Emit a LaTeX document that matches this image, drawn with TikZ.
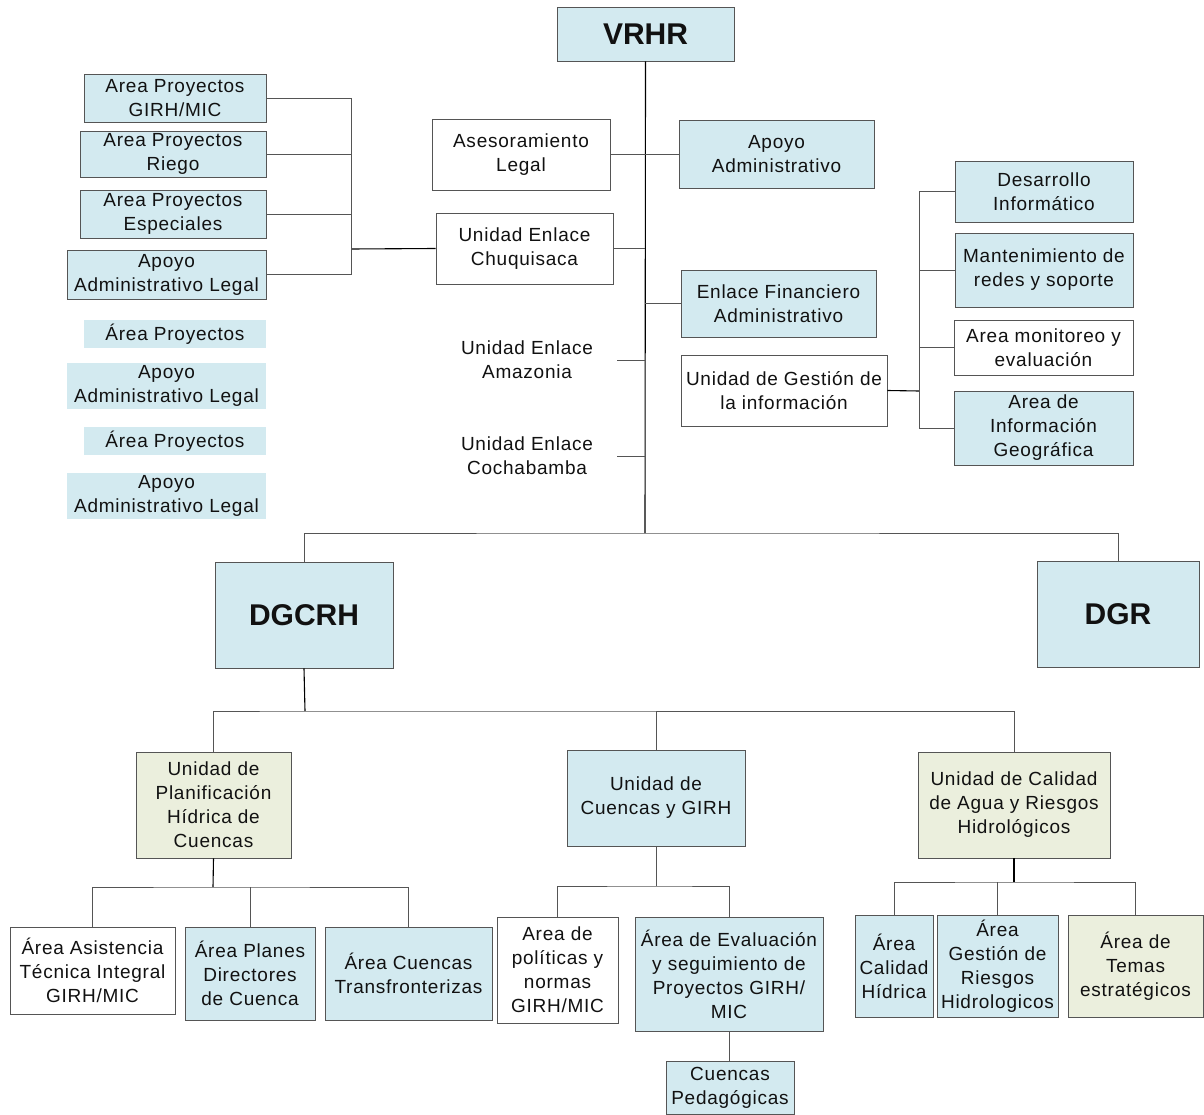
\documentclass[tikz,border=0pt]{standalone}
\usepackage{fontspec}
\setmainfont[LetterSpace=4]{Liberation Sans}
\newfontfamily\bigfont{Liberation Sans}
\definecolor{lblue}{HTML}{D3EAF0}
\definecolor{lgreen}{HTML}{EBEFDD}
\definecolor{lgray}{HTML}{555555}
\definecolor{txt}{HTML}{111111}
\newcommand\fsz{\fontsize{19}{24}\selectfont}
\begin{document}
\begin{tikzpicture}[x=1pt,y=-1pt,
  bx/.style={draw=lgray, line width=0.9pt, inner sep=0pt, align=center, font=\fsz, text=txt},
  bbox/.style={bx, fill=lblue},
  gbox/.style={bx, fill=lgreen},
  wbox/.style={bx, fill=white},
  fbox/.style={fill=lblue, inner sep=0pt, align=center, font=\fsz, text=txt},
  tbox/.style={inner sep=0pt, align=center, font=\fsz, text=txt},
  big/.style={font=\bigfont\fontsize{30}{34}\selectfont\bfseries},
  dbig/.style={font=\bigfont\fontsize{30}{34}\selectfont\bfseries},
  conn/.style={draw=lgray, line width=0.8pt},
  tconn/.style={draw=black, line width=1.1pt}]
\useasboundingbox (0,0) rectangle (1204,1115);
\fill[white] (0,0) rectangle (1204,1115);

% top level
\node[bbox, big, minimum width=177pt, minimum height=54pt] (vrhr) at (645.5,34) {VRHR};
\node[wbox, minimum width=178pt, minimum height=71pt] (ases) at (521,154.5) {Asesoramiento\\Legal};
\node[bbox, minimum width=195pt, minimum height=68pt] (apoyo) at (776.5,154) {Apoyo\\Administrativo};
\node[wbox, minimum width=177pt, minimum height=71pt] (chuq) at (524.5,248.5) {Unidad Enlace\\Chuquisaca};
\node[bbox, minimum width=195pt, minimum height=67pt] (efin) at (778.5,303.5) {Enlace Financiero\\Administrativo};
\node[tbox, minimum width=180pt] (amaz) at (527,360) {Unidad Enlace\\Amazonia};
\node[tbox, minimum width=180pt] (cocha) at (527,456) {Unidad Enlace\\Cochabamba};
\node[wbox, minimum width=206pt, minimum height=71pt] (ugi) at (784,390.5) {Unidad de Gestión de\\la información};

% left column
\node[bbox, minimum width=182pt, minimum height=48pt] (l1) at (175,98) {Area Proyectos\\GIRH/MIC};
\node[bbox, minimum width=186pt, minimum height=46pt] (l2) at (173,154) {Area Proyectos\\Riego};
\node[bbox, minimum width=186pt, minimum height=48pt] (l3) at (173,214) {Area Proyectos\\Especiales};
\node[bbox, minimum width=199pt, minimum height=49pt] (l4) at (166.5,274.5) {Apoyo\\Administrativo Legal};
\node[fbox, minimum width=182pt, minimum height=28pt] (f1) at (175,334) {Área Proyectos};
\node[fbox, minimum width=199pt, minimum height=46pt] (f2) at (166.5,386) {Apoyo\\Administrativo Legal};
\node[fbox, minimum width=182pt, minimum height=28pt] (f3) at (175,441) {Área Proyectos};
\node[fbox, minimum width=199pt, minimum height=46pt] (f4) at (166.5,496) {Apoyo\\Administrativo Legal};

% right column
\node[bbox, minimum width=178pt, minimum height=61pt] (r1) at (1044,191.5) {Desarrollo\\Informático};
\node[bbox, minimum width=178pt, minimum height=74pt] (r2) at (1044,270) {Mantenimiento de\\redes y soporte};
\node[wbox, minimum width=179pt, minimum height=55pt] (r3) at (1043.5,347.5) {Area monitoreo y\\evaluación};
\node[bbox, minimum width=179pt, minimum height=74pt] (r4) at (1043.5,428) {Area de\\Información\\Geográfica};

% directorates
\node[bbox, dbig, minimum width=178pt, minimum height=106pt] (dgcrh) at (304,615) {DGCRH};
\node[bbox, dbig, minimum width=162pt, minimum height=106pt] (dgr) at (1118,614) {DGR};

% units
\node[gbox, minimum width=155pt, minimum height=106pt] (plan) at (213.5,805) {Unidad de\\Planificación\\Hídrica de\\Cuencas};
\node[bbox, minimum width=178pt, minimum height=96pt] (cgirh) at (656,798) {Unidad de\\Cuencas y GIRH};
\node[gbox, minimum width=192pt, minimum height=106pt] (calid) at (1014,805) {Unidad de Calidad\\de Agua y Riesgos\\Hidrológicos};

% areas
\node[wbox, minimum width=165pt, minimum height=87pt] (asis) at (92.5,970.5) {Área Asistencia\\Técnica Integral\\GIRH/MIC};
\node[bbox, minimum width=130pt, minimum height=93pt] (planes) at (250,973.5) {Área Planes\\Directores\\de Cuenca};
\node[bbox, minimum width=167pt, minimum height=93pt] (trans) at (408.5,973.5) {Área Cuencas\\Transfronterizas};
\node[wbox, minimum width=121pt, minimum height=106pt] (pol) at (557.5,970) {Area de\\políticas y\\normas\\GIRH/MIC};
\node[bbox, minimum width=188pt, minimum height=114pt] (eval) at (729,974) {Área de Evaluación\\y seguimiento de\\Proyectos GIRH/\\MIC};
\node[bbox, minimum width=128pt, minimum height=53pt] (ped) at (730,1087.5) {Cuencas\\Pedagógicas};
\node[bbox, minimum width=78pt, minimum height=102pt] (chid) at (894,966) {Área\\Calidad\\Hídrica};
\node[bbox, minimum width=121pt, minimum height=102pt] (gries) at (997.5,966) {Área\\Gestión de\\Riesgos\\Hidrologicos};
\node[gbox, minimum width=135pt, minimum height=102pt] (temas) at (1135.5,966) {Área de\\Temas\\estratégicos};

% junction coordinates
\coordinate (mb) at (645,533);
\coordinate (lj) at (351,249);
\coordinate (rj) at (919,391);
\coordinate (b2) at (305,711);
\coordinate (b3) at (213,887);
\coordinate (b4) at (656,886);
\coordinate (b5) at (1014,882);

% main trunk
\draw[tconn] (vrhr.south) -- (mb);
\draw[conn] (ases.east) -- (ases.east -| mb);
\draw[conn] (apoyo.west) -- (apoyo.west -| mb);
\draw[conn] (chuq.east) -- (chuq.east -| mb);
\draw[conn] (efin.west) -- (efin.west -| mb);
\draw[conn] (amaz.east) -- (amaz.east -| mb);
\draw[conn] (cocha.east) -- (cocha.east -| mb);

% left bracket
\draw[tconn] (chuq.west) -- (lj);
\draw[conn] (l1.east) -- (l1.east -| lj) -- (l4.east -| lj) -- (l4.east);
\draw[conn] (l2.east) -- (l2.east -| lj);
\draw[conn] (l3.east) -- (l3.east -| lj);

% right bracket
\draw[tconn] (ugi.east) -- (rj);
\draw[conn] (r1.west) -- (r1.west -| rj) -- (r4.west -| rj) -- (r4.west);
\draw[conn] (r2.west) -- (r2.west -| rj);
\draw[conn] (r3.west) -- (r3.west -| rj);

% directorates bus
\draw[conn] (dgcrh.north) |- (mb) -| (dgr.north);

% DGCRH bus
\draw[tconn] (dgcrh.south) -- (b2);
\draw[conn] (plan.north) |- (b2) -| (calid.north);
\draw[conn] (cgirh.north) -- (cgirh.north |- b2);

% Planificacion bus
\draw[tconn] (plan.south) -- (b3);
\draw[conn] (asis.north) |- (b3) -| (trans.north);
\draw[conn] (planes.north) -- (planes.north |- b3);

% Cuencas bus
\draw[conn] (cgirh.south) -- (b4);
\draw[conn] (pol.north) |- (b4) -| (eval.north);
\draw[conn] (eval.south) -- (eval.south |- ped.north);

% Calidad bus
\draw[tconn] (calid.south) -- (b5);
\draw[conn] (chid.north) |- (b5) -| (temas.north);
\draw[conn] (gries.north) -- (gries.north |- b5);
\end{tikzpicture}
\end{document}
